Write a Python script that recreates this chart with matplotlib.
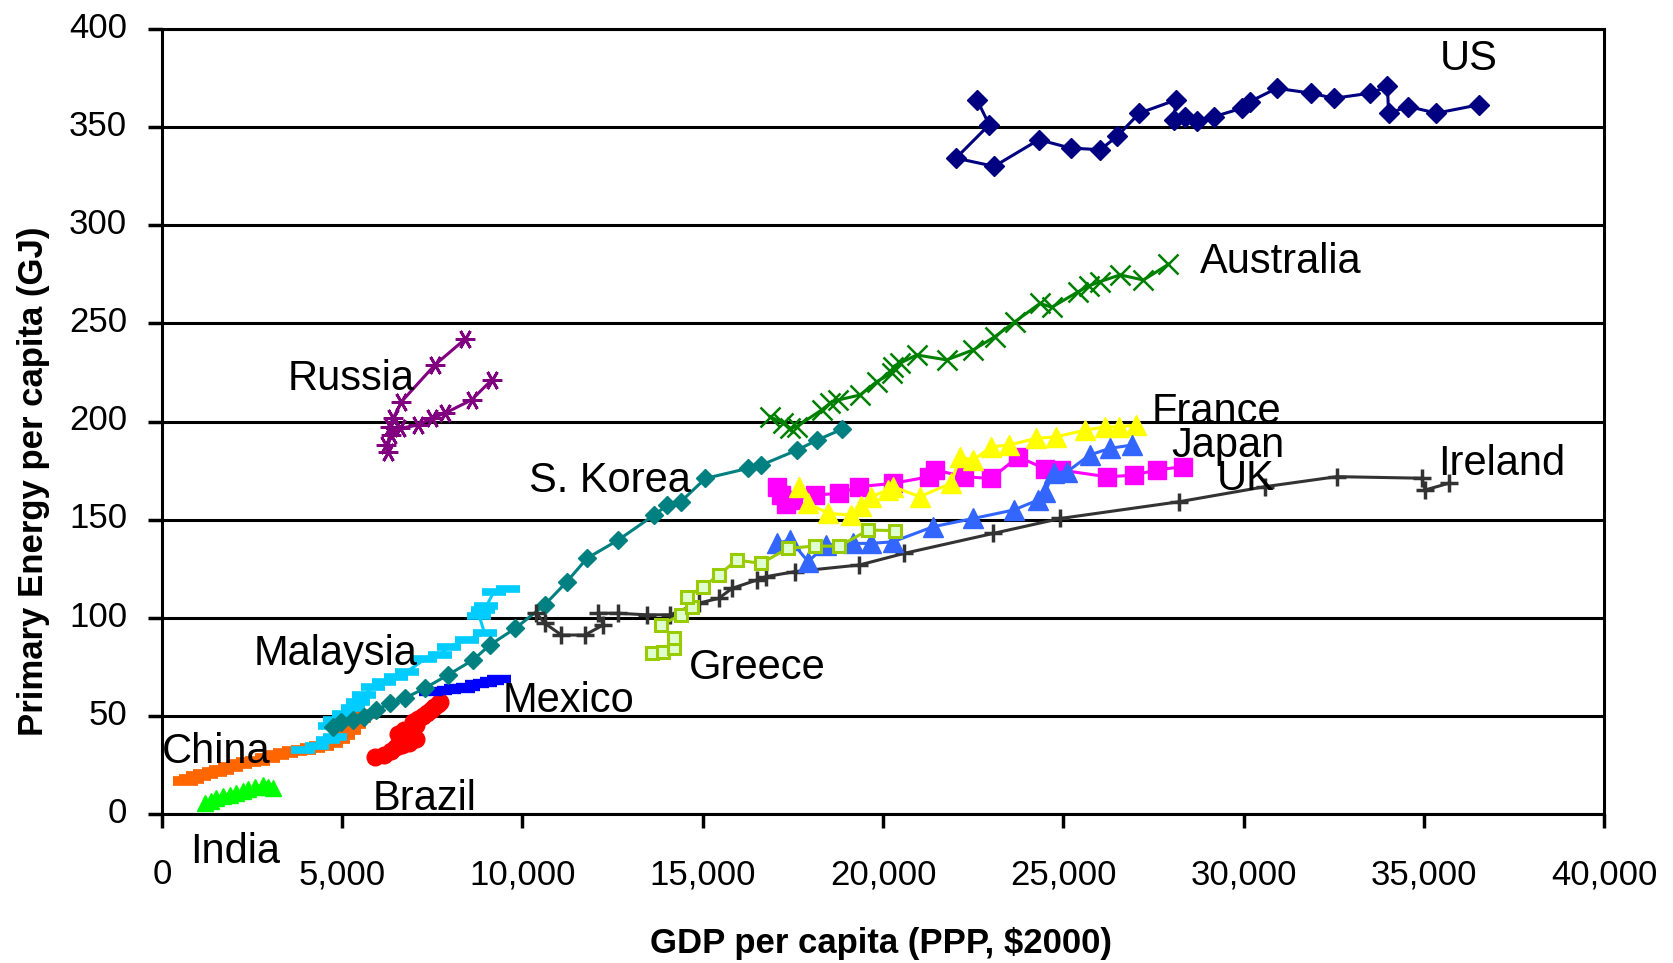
import matplotlib
matplotlib.use("Agg")
import matplotlib.pyplot as plt
from matplotlib.transforms import ScaledTranslation

plt.rcParams['font.family'] = ['Liberation Sans', 'DejaVu Sans']

# GDP per capita (PPP, $2000) and primary energy per capita (GJ)
us_gdp = [22607, 22946, 22025, 23084, 24323, 25202, 26028, 26494, 27108, 28135, 28060, 28379, 28697,
          29194, 29968, 30180, 30920, 31873, 32509, 33515, 33992, 34023, 34574, 35347, 36533]
us_en = [363.9, 351.2, 334.2, 330.0, 343.6, 339.3, 338.5, 345.3, 357.1, 363.9, 353.7, 355.4, 352.9,
         355.4, 359.7, 363.0, 369.8, 367.3, 364.7, 367.3, 370.7, 357.1, 360.5, 357.1, 361.4]

au_gdp = [16864, 17234, 17420, 17604, 18298, 18529, 18760, 19362, 19824, 20240, 20287, 20471, 20934,
          21766, 22506, 23107, 23662, 24356, 24680, 25420, 25700, 26021, 26576, 27223, 27917]
au_en = [202.5, 199.1, 196.5, 197.4, 205.9, 209.3, 211.0, 213.5, 220.3, 224.6, 228.0, 229.7, 233.9,
         231.4, 236.5, 243.3, 250.9, 260.2, 258.2, 266.2, 269.0, 271.3, 274.7, 272.1, 280.1]

ru_gdp = [9142, 8587, 7847, 7477, 7107, 6598, 6350, 6228, 6274, 6321, 6413, 6644, 7569, 8402]
ru_en = [221.1, 211.0, 204.2, 201.6, 198.2, 196.5, 193.0, 188.0, 184.5, 197.4, 201.6, 210.1, 228.8, 241.9]

jp_gdp = [17179, 17055, 17300, 17500, 18108, 18790, 19347, 20276, 21268, 21453, 22258, 23002, 23746,
          24489, 24924, 26223, 26967, 27586, 28330]
jp_en = [162.5, 166.8, 158.0, 160.0, 162.5, 163.4, 166.8, 168.5, 171.8, 175.3, 171.8, 171.0, 182.0,
         176.0, 175.3, 171.8, 172.7, 175.3, 177.0]

fr_gdp = [17674, 17922, 18480, 19099, 19400, 19657, 20152, 20276, 21020, 21887, 22135, 22505, 23002,
          23498, 24241, 24799, 25604, 26161, 26533, 27029]
fr_en = [166.8, 158.3, 153.2, 152.3, 157.0, 161.7, 165.1, 166.8, 161.7, 168.5, 182.0, 180.3, 187.1,
         188.0, 191.4, 192.2, 195.6, 197.3, 197.3, 198.2]

uk_gdp = [17055, 17426, 17922, 18418, 19161, 19657, 20276, 21391, 22505, 23622, 24303, 24489, 24737,
          25109, 25728, 26285, 26905]
uk_en = [137.9, 139.6, 128.6, 137.0, 137.9, 137.9, 138.7, 146.4, 150.6, 154.9, 160.0, 164.2, 173.6,
         174.4, 182.9, 186.3, 188.0]

ie_gdp = [10388, 10619, 11082, 11729, 12238, 12099, 12654, 13440, 14100, 14900, 15444, 15816, 16497,
          16745, 17550, 19347, 20586, 23064, 24923, 28206, 30599, 32588, 34946, 35039, 35686]
ie_en = [102.3, 97.2, 91.2, 91.2, 96.3, 102.3, 102.3, 101.5, 101.5, 107.5, 109.9, 115.0, 119.2,
         120.9, 123.5, 126.9, 132.8, 143.0, 150.6, 159.1, 166.8, 171.9, 171.1, 165.1, 168.5]

kr_gdp = [4750, 4977, 5300, 5600, 5948, 6318, 6734, 7289, 7937, 8630, 9093, 9800, 10612, 11232, 11789,
          12656, 13648, 14019, 14391, 15072, 16250, 16621, 17612, 18170, 18851]
kr_en = [44.5, 47.1, 47.9, 49.5, 53.0, 56.4, 59.0, 64.1, 70.9, 78.5, 86.1, 94.6, 106.5, 118.4, 130.3,
         139.6, 152.3, 157.4, 159.1, 171.0, 176.1, 177.8, 185.4, 190.5, 196.0]

gr_gdp = [13585, 13895, 14205, 14205, 13833, 14391, 14701, 14577, 15010, 15444, 15940, 16621, 17364,
          18108, 18790, 19595, 20338]
gr_en = [81.9, 82.7, 84.4, 89.5, 96.3, 101.4, 105.6, 110.7, 115.8, 121.8, 129.4, 127.7, 135.4,
         136.5, 136.5, 144.7, 144.4]

my_gdp = [3900, 4300, 4600, 4800, 4650, 4800, 5050, 5300, 5450, 5600, 5850, 6150, 6500, 6800, 7300,
          7700, 7950, 8450, 8950, 8800, 8900, 9000, 9200, 9600]
my_en = [32.5, 34.5, 37.5, 39.0, 45.0, 48.0, 51.0, 54.0, 57.0, 60.5, 64.5, 67.5, 70.0, 72.6, 79.0,
         81.0, 85.3, 88.7, 92.0, 101.0, 104.0, 106.0, 113.0, 114.5]

mx_gdp = [7450, 7700, 7950, 8150, 8350, 8500, 8750, 8950, 9150, 9350]
mx_en = [62.0, 62.5, 63.0, 64.0, 63.5, 64.5, 66.0, 67.0, 68.0, 69.0]

br_gdp = [5900, 6150, 6350, 6500, 6650, 6850, 7050, 6800, 6600, 6700, 6550, 6700, 6900, 7050, 6950,
          7100, 7250, 7350, 7450, 7550, 7650, 7700]
br_en = [29.0, 30.0, 32.0, 34.0, 35.0, 36.0, 38.0, 37.0, 37.5, 39.5, 41.0, 43.0, 44.0, 45.5, 47.0,
         48.5, 50.0, 51.5, 53.0, 54.5, 56.0, 57.0]

cn_gdp = [650, 800, 1000, 1200, 1450, 1650, 1900, 2150, 2400, 2650, 2900, 3150, 3400, 3650, 3900,
          4150, 4400, 4650, 4850, 5000, 5150, 5300, 5450, 5650]
cn_en = [17.0, 18.0, 19.5, 20.5, 21.5, 22.5, 24.0, 25.5, 26.5, 27.0, 28.5, 30.0, 31.0, 32.0, 32.5,
         33.5, 34.5, 36.0, 38.0, 40.5, 43.0, 46.0, 49.0, 51.0]

in_gdp = [1188, 1350, 1512, 1700, 1881, 2050, 2251, 2400, 2575, 2806, 2950, 3080]
in_en = [5.5, 6.8, 8.0, 9.0, 9.7, 10.8, 11.9, 12.8, 13.6, 14.8, 14.0, 13.5]

# country name labels and where they sit (data coordinates, left edge / vertical centre)
label_names = ['US', 'Australia', 'Russia', 'France', 'Japan', 'UK', 'Ireland', 'S. Korea',
               'Malaysia', 'Greece', 'Mexico', 'China', 'Brazil', 'India']
label_x = [35450, 28800, 3480, 27460, 28000, 29250, 35400, 10190, 2530, 14620, 9460, 0, 5850, 770]
label_y = [384.5, 281.5, 221.5, 205, 187.5, 170.5, 178.5, 169.5, 81.5, 74.5, 57.5, 31.5, 7.5, -19.5]

xticks = list(range(0, 40001, 5000))
yticks = list(range(0, 401, 50))

fig = plt.figure(figsize=(16.73, 9.63), dpi=100)
ax = fig.add_axes([0.0968, 0.1547, 0.862, 0.8152])

lw = 2.2
# draw order: later series sit on top
ax.plot(cn_gdp, cn_en, color='#FF6600', lw=lw, marker='_', ms=18, mew=7)
ax.plot(in_gdp, in_en, color='#00FF00', lw=lw, marker='^', ms=11)
ax.plot(br_gdp, br_en, color='#FF0000', lw=lw, marker='o', ms=12)
ax.plot(mx_gdp, mx_en, color='#0000FF', lw=lw, marker='_', ms=17, mew=6)
ax.plot(my_gdp, my_en, color='#00CCFF', lw=lw, marker='_', ms=17, mew=5.5)
ax.plot(kr_gdp, kr_en, color='#008080', lw=lw, marker='D', ms=9)
ax.plot(ie_gdp, ie_en, color='#333333', lw=lw, marker='+', ms=13, mew=2.5)
ax.plot(jp_gdp, jp_en, color='#FF00FF', lw=lw, marker='s', ms=13)
ax.plot(fr_gdp, fr_en, color='#FFFF00', lw=lw, marker='^', ms=14)
ax.plot(uk_gdp, uk_en, color='#3366FF', lw=lw, marker='^', ms=14)
ax.plot(gr_gdp, gr_en, color='#99CC00', lw=lw, marker='s', ms=9, mew=2.2, mfc='#E0FFD0')
ax.plot(au_gdp, au_en, color='#008000', lw=lw, marker='x', ms=14, mew=1.8)
ax.plot(ru_gdp, ru_en, color='#800080', lw=lw, marker=(6, 2, 90), ms=14, mew=2)
ax.plot(us_gdp, us_en, color='#000080', lw=lw, marker='D', ms=10)

for name, x, y in zip(label_names, label_x, label_y):
    ax.text(x, y, name, fontsize=30, ha='left', va='center', color='black', clip_on=False)

ax.set_xlim(0, 40000)
ax.set_ylim(0, 400)
ax.set_xticks(xticks)
ax.set_xticklabels([f'{v:,}' for v in xticks])
ax.set_yticks(yticks)
ax.yaxis.grid(True, color='black', lw=2.2)
ax.set_axisbelow(True)
for s in ax.spines.values():
    s.set_linewidth(2.2)
    s.set_color('black')
ax.tick_params(axis='both', direction='out', length=10, width=2.5, labelsize=25, color='black')
ax.tick_params(axis='x', pad=22)
ax.tick_params(axis='y', pad=15)
# y tick labels sit a little above their gridline in the original
lift = ScaledTranslation(0, 3 / 72, fig.dpi_scale_trans)
for t in ax.get_yticklabels():
    t.set_transform(t.get_transform() + lift)

fig.text(34 / 1673, 1 - 481 / 963, 'Primary Energy per capita (GJ)', rotation=90,
         fontsize=25, fontweight='bold', ha='center', va='center')
fig.text(881 / 1673, 1 - 943 / 963, 'GDP per capita (PPP, $2000)',
         fontsize=25, fontweight='bold', ha='center', va='center')

fig.savefig('out.png', dpi=100)
